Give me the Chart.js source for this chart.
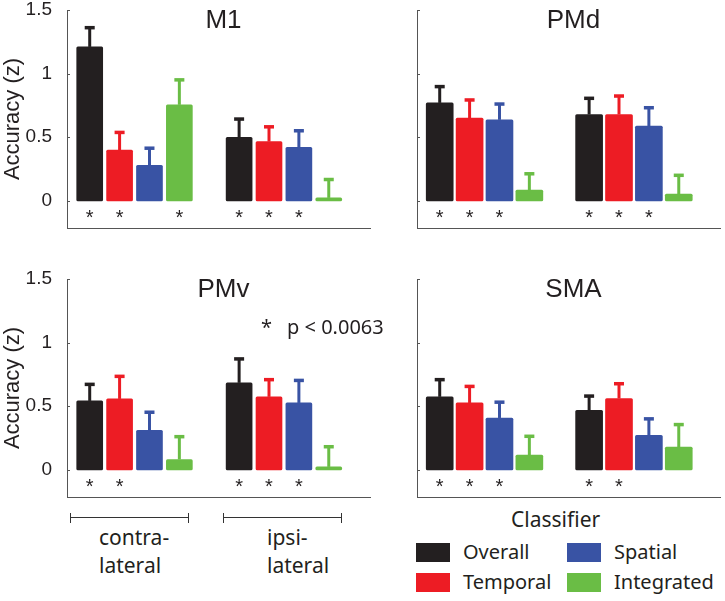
<!DOCTYPE html>
<html>
<head>
<meta charset="utf-8">
<script src="https://cdn.jsdelivr.net/npm/chart.js@4"></script>
<style>
  body { margin: 0; background: #fff; }
  #wrap { position: relative; width: 725px; height: 601px; overflow: hidden; font-family: "Noto Sans", sans-serif; color: #231f20; }
  canvas { position: absolute; }
  .txt { position: absolute; white-space: nowrap; font-size: 20px; line-height: 20px; }
  .box { position: absolute; width: 34px; height: 19px; }
  .brk { position: absolute; height: 10px; border-left: 1.5px solid #333; border-right: 1.5px solid #333; }
  .brk::after { content: ""; position: absolute; left: 0; right: 0; top: 4px; border-top: 1.5px solid #333; }
</style>
</head>
<body>
<div id="wrap">
  <canvas id="m1" width="372" height="232" style="left:0;top:0"></canvas>
  <canvas id="pmd" width="312" height="232" style="left:410px;top:0"></canvas>
  <canvas id="pmv" width="372" height="232" style="left:0;top:269px"></canvas>
  <canvas id="sma" width="312" height="232" style="left:410px;top:269px"></canvas>

  <div class="txt" style="left:261px;top:317px">*</div>
  <div class="txt" style="left:287px;top:317px">p &lt; 0.0063</div>

  <div class="brk" style="left:70px;top:513px;width:117px"></div>
  <div class="brk" style="left:223px;top:513px;width:117px"></div>
  <div class="txt" style="left:99px;top:523px;font-size:21px;line-height:28px">contra-<br>lateral</div>
  <div class="txt" style="left:267px;top:523px;font-size:21px;line-height:28px">ipsi-<br>lateral</div>

  <div class="txt" style="left:511px;top:509px;font-size:21px;line-height:21px">Classifier</div>
  <div id="legend"></div>
</div>
<script>
// classifiers and hemispheres
const classifiers = ['Overall', 'Temporal', 'Spatial', 'Integrated'];
const sides = ['contra-lateral', 'ipsi-lateral'];
const colors = ['#231f20', '#ed1c24', '#3953a4', '#6abd45'];
const yTicks = [0, 0.5, 1, 1.5];

// mean accuracy, order: contra O,T,S,I then ipsi O,T,S,I
const m1Acc  = [1.21, 0.40, 0.28, 0.755, 0.50, 0.466, 0.42, 0.01];
const m1Err  = [0.153, 0.14, 0.136, 0.198, 0.145, 0.118, 0.133, 0.16];
const m1Sig  = [1, 1, 0, 1, 1, 1, 1, 0];

const pmdAcc = [0.77, 0.65, 0.637, 0.084, 0.679, 0.679, 0.587, 0.053];
const pmdErr = [0.13, 0.145, 0.126, 0.131, 0.129, 0.147, 0.147, 0.15];
const pmdSig = [1, 1, 1, 0, 1, 1, 1, 0];

const pmvAcc = [0.542, 0.558, 0.31, 0.082, 0.684, 0.574, 0.526, 0.005];
const pmvErr = [0.132, 0.179, 0.145, 0.181, 0.19, 0.137, 0.179, 0.179];
const pmvSig = [1, 1, 0, 0, 1, 1, 1, 0];

const smaAcc = [0.574, 0.526, 0.408, 0.116, 0.468, 0.561, 0.271, 0.179];
const smaErr = [0.137, 0.132, 0.126, 0.15, 0.114, 0.118, 0.132, 0.179];
const smaSig = [1, 1, 1, 0, 1, 1, 0, 0];

// error bars, significance stars, inward ticks and panel title
const panelPlugin = {
  id: 'panel',
  afterDatasetsDraw(chart, args, opts) {
    const { ctx, chartArea, scales: { y } } = chart;
    const zero = y.getPixelForValue(0);
    ctx.save();
    chart.data.datasets.forEach((ds, di) => {
      chart.getDatasetMeta(di).data.forEach((bar, i) => {
        const top = y.getPixelForValue(ds.data[i].y + ds.err[i]);
        ctx.strokeStyle = ds.backgroundColor;
        ctx.fillStyle = ds.backgroundColor;
        ctx.lineWidth = 3;
        ctx.beginPath();
        ctx.moveTo(bar.x, bar.y);
        ctx.lineTo(bar.x, top);
        ctx.stroke();
        ctx.fillRect(bar.x - 5, top - 1.5, 10, 3.5);
        if (ds.sig[i]) {
          ctx.fillStyle = '#231f20';
          ctx.font = '20px "Liberation Sans"';
          ctx.textAlign = 'center';
          ctx.fillText('*', bar.x, zero + 23.5);
        }
      });
    });
    ctx.strokeStyle = '#555';
    ctx.lineWidth = 1;
    yTicks.forEach(v => {
      const py = Math.round(y.getPixelForValue(v)) + 0.5;
      ctx.beginPath();
      ctx.moveTo(chartArea.left, py);
      ctx.lineTo(chartArea.left + 3, py);
      ctx.stroke();
    });
    ctx.fillStyle = '#231f20';
    ctx.font = '26px "Liberation Sans"';
    ctx.textAlign = 'center';
    ctx.textBaseline = 'alphabetic';
    ctx.fillText(opts.text, (chartArea.left + chartArea.right) / 2 + 5, chartArea.top + 18);
    ctx.restore();
  }
};

function makePanel(id, title, acc, err, sig, showLabels) {
  const datasets = classifiers.map((name, c) => ({
    label: name,
    data: sides.map((s, si) => ({ x: si * 5 + c + 1, y: acc[si * 4 + c] })),
    err: sides.map((s, si) => err[si * 4 + c]),
    sig: sides.map((s, si) => sig[si * 4 + c]),
    backgroundColor: colors[c],
    grouped: false,
    barThickness: showLabels ? 26 : 27,
    minBarLength: 3,
    borderRadius: 1.5,
    borderSkipped: false
  }));
  new Chart(document.getElementById(id), {
    type: 'bar',
    data: { datasets },
    options: {
      responsive: false,
      animation: false,
      layout: { padding: { top: 10, right: 2, bottom: 4, left: 0 } },
      plugins: { legend: { display: false }, tooltip: { enabled: false }, panel: { text: title } },
      scales: {
        x: {
          type: 'linear', min: 0.24, max: 10.38, offset: false,
          ticks: { display: false },
          grid: { display: false, offset: false },
          border: { color: '#555', width: 1 },
          afterFit: a => { a.height = 0; a.paddingLeft = 0; a.paddingRight = 0; }
        },
        y: {
          min: -0.213, max: 1.5,
          afterBuildTicks: a => { a.ticks = yTicks.map(v => ({ value: v })); },
          ticks: {
            display: showLabels, padding: 7, color: '#231f20',
            font: { family: 'Liberation Sans', size: 19 },
            callback: v => String(v)
          },
          grid: { display: false },
          border: { color: '#555', width: 1 },
          title: {
            display: showLabels, text: 'Accuracy (z)', color: '#231f20',
            font: { family: 'Liberation Sans', size: 22 },
            padding: { top: 0, bottom: 0 }
          },
          afterFit: a => { a.width = showLabels ? 67 : 7; a.paddingTop = 0; a.paddingBottom = 0; }
        }
      }
    },
    plugins: [panelPlugin]
  });
}

makePanel('m1', 'M1', m1Acc, m1Err, m1Sig, true);
makePanel('pmd', 'PMd', pmdAcc, pmdErr, pmdSig, false);
makePanel('pmv', 'PMv', pmvAcc, pmvErr, pmvSig, true);
makePanel('sma', 'SMA', smaAcc, smaErr, smaSig, false);

// legend, two columns
const legendPos = [[416, 543], [416, 573], [567, 543], [567, 573]];
const legend = document.getElementById('legend');
classifiers.forEach((name, c) => {
  const [lx, ly] = legendPos[c];
  const box = document.createElement('div');
  box.className = 'box';
  box.style.left = lx + 'px';
  box.style.top = ly + 'px';
  box.style.background = colors[c];
  legend.appendChild(box);
  const t = document.createElement('div');
  t.className = 'txt';
  t.style.left = (lx + 47) + 'px';
  t.style.top = (ly - 1) + 'px';
  t.textContent = name;
  legend.appendChild(t);
});
</script>
</body>
</html>
